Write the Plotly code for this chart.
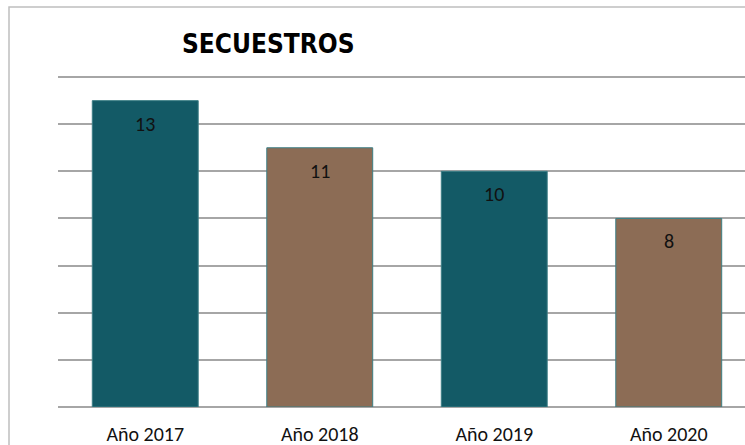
import plotly.graph_objects as go

categories = ["Año 2017", "Año 2018", "Año 2019", "Año 2020"]
values = [13, 11, 10, 8]
bar_colors = ["#135a66", "#8c6c55", "#135a66", "#8c6c55"]
title_text = "SECUESTROS"

W, H = 745, 445
y_top = 14.3
ml, mb = 58, 38
unit_px = 330 / 14
ph = y_top * unit_px
mt = H - mb - ph
pw = W - ml

fig = go.Figure()
fig.add_trace(go.Bar(
    x=categories, y=values,
    marker=dict(color=bar_colors, line=dict(color="#3d7f86", width=1)),
    hoverinfo="x+y",
))

for c, v in zip(categories, values):
    fig.add_annotation(x=c, y=v, text=str(v), showarrow=False, yanchor="top", yshift=-9,
                       font=dict(family="Carlito, Lato, sans-serif", size=20, color="#111111"))

# title
fig.add_annotation(xref="paper", yref="paper", x=(268 - ml) / pw, y=(H - mb - 44) / ph,
                   text="<b>" + title_text + "</b>", showarrow=False, xanchor="center", yanchor="middle",
                   font=dict(family="Liberation Sans Narrow, DejaVu Sans Condensed, sans-serif", size=26, color="#000000"))

# outer chart border (cropped)
fig.add_shape(type="rect", xref="paper", yref="paper",
              x0=(9 - ml) / pw, x1=1.2, y0=-0.3, y1=(H - mb - 7) / ph,
              line=dict(color="#bfbfbf", width=1.5), fillcolor="rgba(0,0,0,0)", layer="below")

fig.update_layout(
    width=W, height=H,
    margin=dict(l=ml, r=0, t=mt, b=mb, pad=0),
    plot_bgcolor="white", paper_bgcolor="white",
    showlegend=False,
    bargap=0.393,
    xaxis=dict(range=[-0.5, -0.5 + pw / 174.5], showgrid=False, zeroline=False,
               showline=False, ticks="outside", ticklen=9, tickcolor="rgba(0,0,0,0)",
               tickfont=dict(family="Carlito, Lato, sans-serif", size=20, color="#111111")),
    yaxis=dict(range=[0, y_top], tickvals=[0, 2, 4, 6, 8, 10, 12, 14], showgrid=True,
               gridcolor="#a6a6a6", gridwidth=1.5,
               zeroline=True, zerolinecolor="#a6a6a6", zerolinewidth=1.5,
               showticklabels=False, showline=False),
)

fig.write_html("out.html", config={"displayModeBar": False},
               post_script="document.body.style.margin='0';document.body.style.overflow='hidden';")
